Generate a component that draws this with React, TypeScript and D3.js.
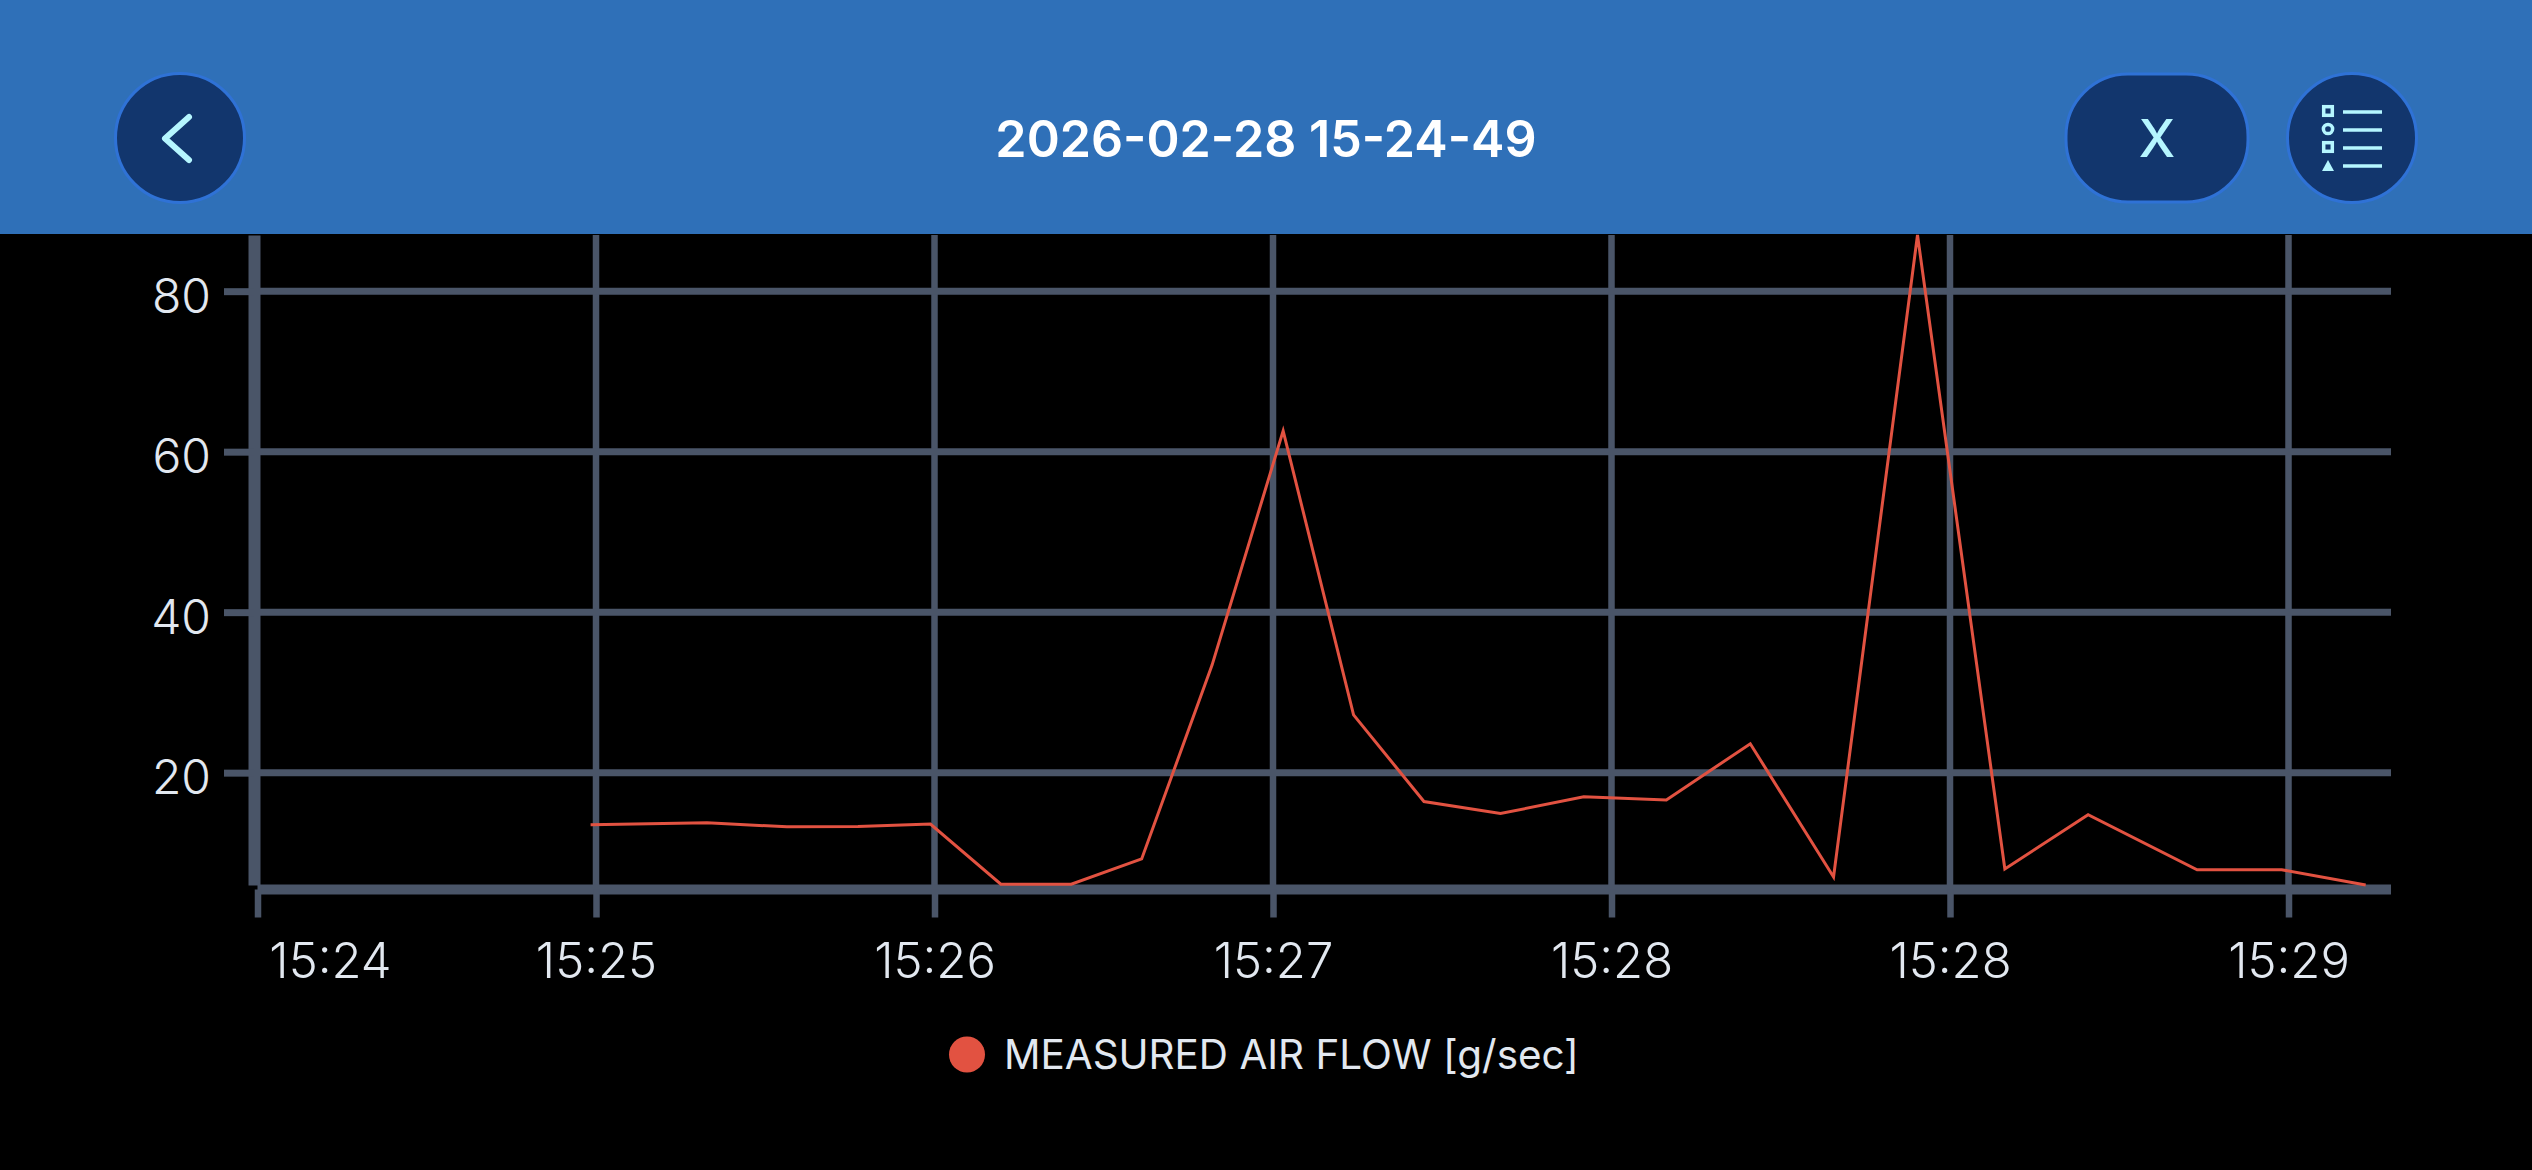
import React, { useEffect, useRef } from 'react';
import * as d3 from 'd3';

const title = '2026-02-28 15-24-49';
const seriesName = 'MEASURED AIR FLOW [g/sec]';
const recordingStart = new Date(2026, 1, 28, 15, 24, 49);

// seconds after recording start
const sampleSeconds = [49.2, 66.4, 78.2, 88.7, 99.4, 109.8, 120.2, 130.6, 141, 151.5, 161.9, 172.3, 183.6, 195.9, 208.1, 220.5, 232.8, 245.2, 258.1, 270.4, 286.5, 299, 311.4];
const airFlow = [13.5, 13.75, 13.25, 13.3, 13.6, 6.1, 6.1, 9.25, 33.4, 62.6, 27.2, 16.4, 14.9, 17, 16.6, 23.6, 7, 87, 8, 14.75, 7.9, 7.9, 6];
const tickSeconds = [0, 50, 100, 150, 200, 250, 300];
const yTicks = [20, 40, 60, 80];
const xDomainSeconds = [0, 315];
const yDomain = [6, 87];

const GRID = '#4a5568';
const LABEL = '#e2e8f0';
const LINE = '#e25241';
const HEADER = '#2f70b8';
const BUTTON = '#12366d';
const BUTTON_EDGE = '#2f72d6';
const ICON = '#b5f6ff';

const toDate = (s: number) => new Date(recordingStart.getTime() + s * 1000);

const App: React.FC = () => {
  const chartRef = useRef<SVGGElement | null>(null);

  useEffect(() => {
    document.body.style.margin = '0';
    document.body.style.background = '#000';
    if (!chartRef.current) return;
    const g = d3.select(chartRef.current);
    g.selectAll('*').remove();

    const left = 257.5;
    const right = 2391;
    const top = 235;
    const bottom = 885;
    const axisY = 889.5;

    const x = d3.scaleTime()
      .domain(xDomainSeconds.map(toDate))
      .range([left, left + (6.77 * xDomainSeconds[1])]);
    const y = d3.scaleLinear().domain(yDomain).range([bottom, top]);
    const tickDates = tickSeconds.map(toDate);
    const fmt = d3.timeFormat('%H:%M');

    // Grid
    g.append('g').selectAll('line').data(tickDates.slice(1)).enter().append('line')
      .attr('x1', d => x(d)).attr('x2', d => x(d))
      .attr('y1', top).attr('y2', axisY)
      .attr('stroke', GRID).attr('stroke-width', 6.5);
    g.append('g').selectAll('line').data(yTicks).enter().append('line')
      .attr('x1', left).attr('x2', right)
      .attr('y1', d => y(d)).attr('y2', d => y(d))
      .attr('stroke', GRID).attr('stroke-width', 7);

    // Y axis
    const yAxis = g.append('g')
      .attr('transform', 'translate(254,0)')
      .call(d3.axisLeft(y).tickValues(yTicks).tickSize(30).tickSizeOuter(0).tickPadding(13));
    yAxis.select('.domain').attr('stroke', GRID).attr('stroke-width', 12);
    yAxis.selectAll('.tick line').attr('stroke', GRID).attr('stroke-width', 7);
    yAxis.selectAll('.tick text')
      .attr('fill', LABEL).attr('dy', 21)
      .style('font-family', 'Inter').style('font-size', '48px').style('font-weight', 300);

    // X axis
    const xAxis = g.append('g')
      .attr('transform', `translate(0,${axisY})`)
      .call(d3.axisBottom(x).tickValues(tickDates).tickFormat(d => fmt(d as Date)).tickSize(28).tickSizeOuter(0).tickPadding(20));
    xAxis.select('.domain').attr('d', `M${left},0H${right}`).attr('stroke', GRID).attr('stroke-width', 10);
    xAxis.selectAll('.tick line').attr('stroke', GRID).attr('stroke-width', 6.5);
    xAxis.selectAll('.tick text')
      .attr('fill', LABEL).attr('y', 88).attr('dy', 0)
      .attr('dx', (_, i) => (i === 0 ? 72.5 : 0))
      .style('font-family', 'Inter').style('font-size', '49px').style('font-weight', 300);

    // Series
    const line = d3.line<number>()
      .x((_, i) => x(toDate(sampleSeconds[i])))
      .y(d => y(d));
    g.append('path')
      .datum(airFlow)
      .attr('fill', 'none')
      .attr('stroke', LINE)
      .attr('stroke-width', 3)
      .attr('stroke-linejoin', 'miter')
      .attr('d', line);
  }, []);

  return (
    <svg width={2532} height={1170} style={{ display: 'block', background: '#000' }}>
      <g ref={chartRef} />

      {/* Header bar sits over the chart and clips the peak */}
      <rect x={0} y={0} width={2532} height={234} fill={HEADER} />
      <text x={1266} y={157} textAnchor="middle" fill="#fff" fontFamily="Inter" fontSize={50.2} fontWeight={600}>{title}</text>

      <circle cx={180} cy={138} r={64.5} fill={BUTTON} stroke={BUTTON_EDGE} strokeWidth={3} />
      <path d="M189,117L165,138.5L189,160" fill="none" stroke={ICON} strokeWidth={6} strokeLinecap="round" strokeLinejoin="round" />

      <rect x={2066} y={74} width={182} height={128} rx={62} fill={BUTTON} stroke={BUTTON_EDGE} strokeWidth={3} />
      <text x={2157} y={157} textAnchor="middle" fill={ICON} fontFamily="Inter" fontSize={52} fontWeight={500}>X</text>

      <circle cx={2352} cy={138} r={64.5} fill={BUTTON} stroke={BUTTON_EDGE} strokeWidth={3} />
      <g fill="none" stroke={ICON} strokeWidth={3.5}>
        <rect x={2323.7} y={106.7} width={8.6} height={8.6} />
        <circle cx={2328} cy={129} r={4.6} />
        <rect x={2323.7} y={142.7} width={8.6} height={8.6} />
        <path d="M2343,112H2382M2343,130H2382M2343,148H2382M2343,166H2382" />
      </g>
      <path d="M2328,160L2334,171L2322,171Z" fill={ICON} />

      {/* Legend */}
      <circle cx={967} cy={1054.5} r={18} fill={LINE} />
      <text x={1004} y={1069} fill={LABEL} fontFamily="Inter" fontSize={40.4} fontWeight={400}>{seriesName}</text>
    </svg>
  );
};

export default App;
